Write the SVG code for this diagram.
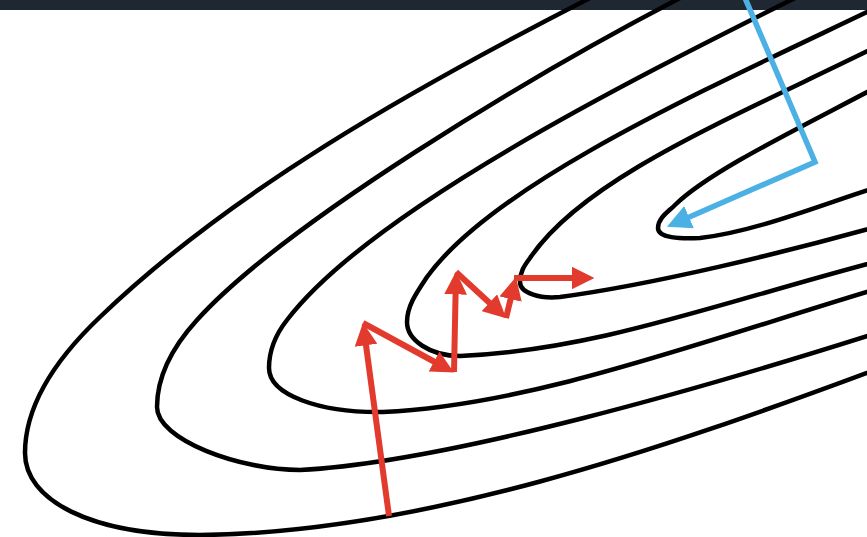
<svg xmlns="http://www.w3.org/2000/svg" width="867" height="537" viewBox="0 0 867 537">
<style>
.contour{fill:none;stroke:#000;stroke-width:4.5;stroke-linecap:round;stroke-linejoin:round}
.red{fill:none;stroke:#e23b2e;stroke-width:6;marker-end:url(#redHead)}
.blue{fill:none;stroke:#4bb0e3;stroke-width:5.5;stroke-linejoin:miter}
</style>
<defs>
<marker id="redHead" viewBox="0 0 10 10" refX="5" refY="5" markerWidth="3.8" markerHeight="3.8" orient="auto" markerUnits="strokeWidth">
<path d="M0,0 L10,5 L0,10 z" fill="#e23b2e"/>
</marker>
<marker id="blueHead" viewBox="0 0 10 10" refX="5" refY="5" markerWidth="4.4" markerHeight="4.4" orient="auto" markerUnits="strokeWidth">
<path d="M0,0 L10,5 L0,10 z" fill="#4bb0e3"/>
</marker>
</defs>
<rect x="0" y="0" width="867" height="537" fill="#fff"/>
<rect id="topbar" x="0" y="0" width="867" height="10" fill="#1f2832"/>
<g id="contours">
<path id="c6" class="contour" d="M590,-2 C410,90 230,192 100,317 C60,355 25,403 25,453 C25,500 90,535 200,535 C420,533 660,450 880,368"/>
<path id="c5" class="contour" d="M680,-2 C530,76 284,224 197,320 C177,342 157,372 157,407 C157,440 240,470 300,470 C450,462 710,386 880,332"/>
<path id="c4" class="contour" d="M795,-2 C635,78 372,209 287,320 C276,334 269,350 269,368 C269,395 320,413 383,412 C533,405 700,342 880,288"/>
<path id="c3" class="contour" d="M890,1 C720,83 497,180 427,277 C417,292 407,306 407,322 C407,340 430,356 460,356 C600,350 720,302 890,258"/>
<path id="c2" class="contour" d="M890,40 C740,115 586,175 530,258 C524,266 520,272 520,282 C520,293 540,299 560,297 C650,285 780,254 890,223"/>
<path id="c1" class="contour" d="M890,80 C800,128 711,170 675,205 C668,212 658,218 658,228 C658,238 680,239 700,238 C760,231 830,201 890,183"/>
</g>
<g id="red-path">
<path class="red" d="M389,516 L364.5,334"/>
<path class="red" d="M363,323 L444,367"/>
<path class="red" d="M454,372 L455.8,283"/>
<path class="red" d="M456,272 L497.8,310.5"/>
<path class="red" d="M506,318 L513.3,288"/>
<path class="red" d="M514,278 L583,278"/>
</g>
<g id="blue-path">
<path class="blue" d="M745,-2 L815,162 L678,222" marker-end="url(#blueHead)"/>
</g>
</svg>
